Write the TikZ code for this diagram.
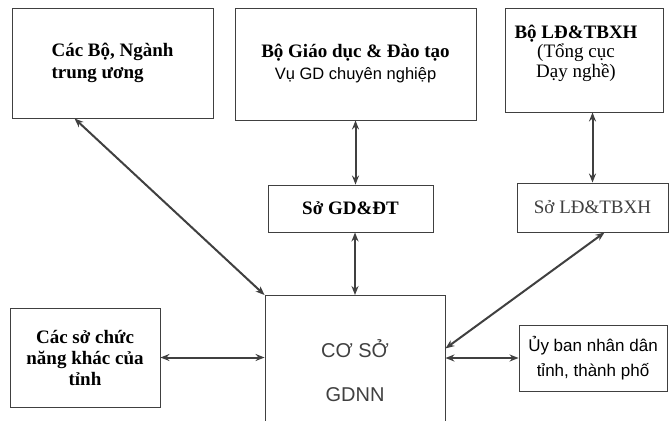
\documentclass[tikz,border=0pt]{standalone}
\usepackage{fontspec}
\setmainfont{Liberation Serif}
\setsansfont{Liberation Sans}
\usetikzlibrary{arrows.meta, positioning}

\begin{document}
\begin{tikzpicture}[x=1pt, y=-1pt,
    box/.style={draw=black!75, line width=0.9pt, inner sep=0pt},
    serifb/.style={font=\fontsize{19}{22}\selectfont\bfseries},
    serifr/.style={font=\fontsize{19}{22}\selectfont},
    sansr/.style={font=\sffamily\fontsize{17}{25}\selectfont},
    link/.style={{Stealth[length=9pt, width=7pt]}-{Stealth[length=9pt, width=7pt]}, line width=2pt, draw=black!75}]
        \useasboundingbox (0,0) rectangle (671,420);
        \fill[white] (0,0) rectangle (671,420);

        % Top row
        \node[box, serifb, minimum width=201pt, minimum height=110pt, align=left] (bnganh) at (112.5, 63) {Các Bộ, Ngành\\trung ương};
        \node[box, serifb, minimum width=241pt, minimum height=112pt, align=center] (bgd) at (355.5, 64) {Bộ Giáo dục \& Đào tạo\\{\mdseries\sffamily\fontsize{16.5}{22}\selectfont Vụ GD chuyên nghiệp}};
        \node[box, minimum width=158pt, minimum height=104pt] (bldtbxh) at (584, 60) {};
        \node[serifr, anchor=north, align=center, inner sep=0pt, font=\fontsize{19}{19.5}\selectfont] (bldtbxhtext) at ([xshift=-8pt, yshift=-17pt]bldtbxh.north) {\textbf{Bộ LĐ\&TBXH}\\(Tổng cục\\Dạy nghề)};

        % Province level
        \node[box, serifb, minimum width=165pt, minimum height=47pt] (sogd) at (350.5, 208.5) {Sở GD\&ĐT};
        \node[box, serifr, text=black!75, minimum width=151pt, minimum height=49pt] (sold) at (592.5, 207.5) {Sở LĐ\&TBXH};

        % Bottom row
        \node[box, font=\sffamily\fontsize{20}{44}\selectfont, text=black!75, minimum width=180pt, minimum height=150pt, anchor=north, align=center] (coso) at (355, 295) {CƠ SỞ\\GDNN};
        \node[box, serifb, font=\fontsize{19}{21}\selectfont\bfseries, minimum width=150pt, minimum height=99pt, align=center] (sokhac) at (85, 357.5) {Các sở chức\\năng khác của\\tỉnh};
        \node[box, sansr, minimum width=148pt, minimum height=66pt, align=center] (ubnd) at (593, 358) {Ủy ban nhân dân\\tỉnh, thành phố};

        \draw[link] ([xshift=-38pt]bnganh.south) -- (coso.north west);
        \draw[link] (bgd.south) -- (bgd.south |- sogd.north);
        \draw[link] (coso.north |- sogd.south) -- (coso.north);
        \draw[link] (sold.north |- bldtbxh.south) -- (sold.north);
        \draw[link] ([xshift=12pt]sold.south) -- ([yshift=22pt]coso.east);
        \draw[link] (sokhac.east) -- (sokhac.east -| coso.west);
        \draw[link] (ubnd.west -| coso.east) -- (ubnd.west);
    \end{tikzpicture}
\end{document}
